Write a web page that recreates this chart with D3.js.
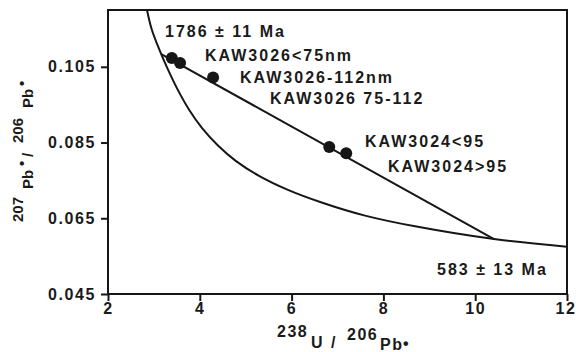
<!DOCTYPE html>
<html>
<head>
<meta charset="utf-8">
<script src="https://cdn.jsdelivr.net/npm/d3@7"></script>
<style>
  body { margin: 0; background: #fff; }
  text { font-family: "Liberation Sans", Arial, Helvetica, sans-serif; fill: #1a1a1a; font-weight: bold; }
</style>
</head>
<body>
<svg id="chart" width="576" height="352"></svg>
<script>
// Tera-Wasserburg concordia diagram, 238U/206Pb* vs 207Pb*/206Pb*

const xTicks = [2, 4, 6, 8, 10, 12];
const xTickLabels = ["2", "4", "6", "8", "10", "12"];
const yTicks = [0.045, 0.065, 0.085, 0.105];
const yTickLabels = ["0.045", "0.065", "0.085", "0.105"];

// concordia curve
const concordiaX = [2.85, 2.95, 3.13, 3.31, 3.53, 3.77, 4.05, 4.39, 4.79, 5.29, 5.92, 6.67, 7.60, 8.72, 10.41, 12.0];
const concordiaY = [0.1200, 0.1150, 0.1092, 0.1042, 0.0987, 0.0936, 0.0888, 0.0843, 0.0801, 0.0762, 0.0725, 0.0691, 0.0657, 0.0628, 0.0595, 0.0575];

// discordia chord: upper and lower intercepts
const interceptAges = ["1786 ± 11 Ma", "583 ± 13 Ma"];
const discordiaX = [3.17, 10.41];
const discordiaY = [0.1083, 0.0595];

// zircon fractions
const sampleNames = ["KAW3026<75nm", "KAW3026 75-112", "KAW3026-112nm", "KAW3024<95", "KAW3024>95"];
const sampleX = [3.39, 3.57, 4.29, 6.82, 7.19];
const sampleY = [0.1073, 0.1060, 0.1022, 0.0838, 0.0822];

const svg = d3.select("#chart");
const plotLeft = 108, plotRight = 567, plotTop = 10, plotBottom = 294;

const x = d3.scaleLinear().domain([2, 12]).range([plotLeft, plotRight]);
const y = d3.scaleLinear().domain([0.045, 0.120]).range([plotBottom, plotTop]);

const ink = "#161616";
const labelFont = 16;

svg.append("defs").append("clipPath").attr("id", "plotClip")
  .append("rect").attr("x", plotLeft).attr("y", plotTop)
  .attr("width", plotRight - plotLeft).attr("height", plotBottom - plotTop);

// axes
const xAxis = svg.append("g").attr("transform", `translate(0,${plotBottom})`)
  .call(d3.axisBottom(x).tickValues(xTicks).tickSize(7).tickPadding(2)
    .tickFormat((d, i) => xTickLabels[i]));
const yAxis = svg.append("g").attr("transform", `translate(${plotLeft},0)`)
  .call(d3.axisLeft(y).tickValues(yTicks).tickSize(7).tickPadding(5)
    .tickFormat((d, i) => yTickLabels[i]));

[xAxis, yAxis].forEach(g => {
  g.select(".domain").remove();
  g.selectAll(".tick line").attr("stroke", ink).attr("stroke-width", 2);
  g.selectAll(".tick text")
    .style("font-family", '"Liberation Sans", Arial, sans-serif')
    .style("font-size", labelFont + "px")
    .style("font-weight", "bold")
    .style("letter-spacing", "1.6px")
    .style("fill", "#1a1a1a");
});
// keep the last x label inside the page edge
xAxis.selectAll(".tick text").filter((d, i) => i === xTicks.length - 1)
  .attr("text-anchor", "end").attr("x", 9);

// frame
svg.append("rect")
  .attr("x", plotLeft).attr("y", plotTop)
  .attr("width", plotRight - plotLeft).attr("height", plotBottom - plotTop)
  .attr("fill", "none").attr("stroke", ink).attr("stroke-width", 2);

const plot = svg.append("g").attr("clip-path", "url(#plotClip)");

// concordia
const concordia = concordiaX.map((d, i) => [d, concordiaY[i]]);
plot.append("path")
  .datum(concordia)
  .attr("d", d3.line().x(d => x(d[0])).y(d => y(d[1])).curve(d3.curveCatmullRom.alpha(0.5)))
  .attr("fill", "none").attr("stroke", ink).attr("stroke-width", 2);

// discordia
plot.append("line")
  .attr("x1", x(discordiaX[0])).attr("y1", y(discordiaY[0]))
  .attr("x2", x(discordiaX[1])).attr("y2", y(discordiaY[1]))
  .attr("stroke", ink).attr("stroke-width", 2);

// data points
plot.selectAll("circle.frac")
  .data(sampleX.map((d, i) => ({ name: sampleNames[i], x: d, y: sampleY[i] })))
  .join("circle").attr("class", "frac")
  .attr("cx", d => x(d.x)).attr("cy", d => y(d.y)).attr("r", 6)
  .attr("fill", ink);

// annotations
const notes = [
  { text: interceptAges[0], px: 165, py: 37 },
  { text: sampleNames[0], px: 205, py: 61 },
  { text: sampleNames[2], px: 240, py: 83 },
  { text: sampleNames[1], px: 270, py: 104 },
  { text: sampleNames[3], px: 365, py: 147 },
  { text: sampleNames[4], px: 388, py: 172 },
  { text: interceptAges[1], px: 437, py: 275 }
];
svg.selectAll("text.note").data(notes).join("text").attr("class", "note")
  .attr("x", d => d.px).attr("y", d => d.py)
  .style("font-size", labelFont + "px").style("letter-spacing", "2px")
  .text(d => d.text);

// x axis title: 238U / 206Pb*
const xTitle = svg.append("text")
  .style("font-size", labelFont + "px").style("letter-spacing", "1.5px");
[
  { t: "238", x: 277, y: 337 },
  { t: "U", x: 311, y: 348 },
  { t: "/", x: 331, y: 348 },
  { t: "206", x: 347, y: 340 },
  { t: "Pb", x: 380, y: 350 },
  { t: "•", x: 403, y: 349 }
].forEach(p => xTitle.append("tspan").attr("x", p.x).attr("y", p.y).text(p.t));

// y axis title: 207Pb*/ 206Pb*
const yTitle = svg.append("text")
  .attr("transform", "translate(33,222) rotate(-90)")
  .style("font-size", "15px").style("letter-spacing", "0px");
[
  { t: "207", x: 0, y: -10 },
  { t: "Pb", x: 33, y: 0 },
  { t: "•", x: 56, y: -6 },
  { t: "/", x: 65, y: 0 },
  { t: "206", x: 79, y: -10 },
  { t: "Pb", x: 114, y: 0 },
  { t: "•", x: 136, y: -6 }
].forEach(p => yTitle.append("tspan").attr("x", p.x).attr("y", p.y).text(p.t));
</script>
</body>
</html>
